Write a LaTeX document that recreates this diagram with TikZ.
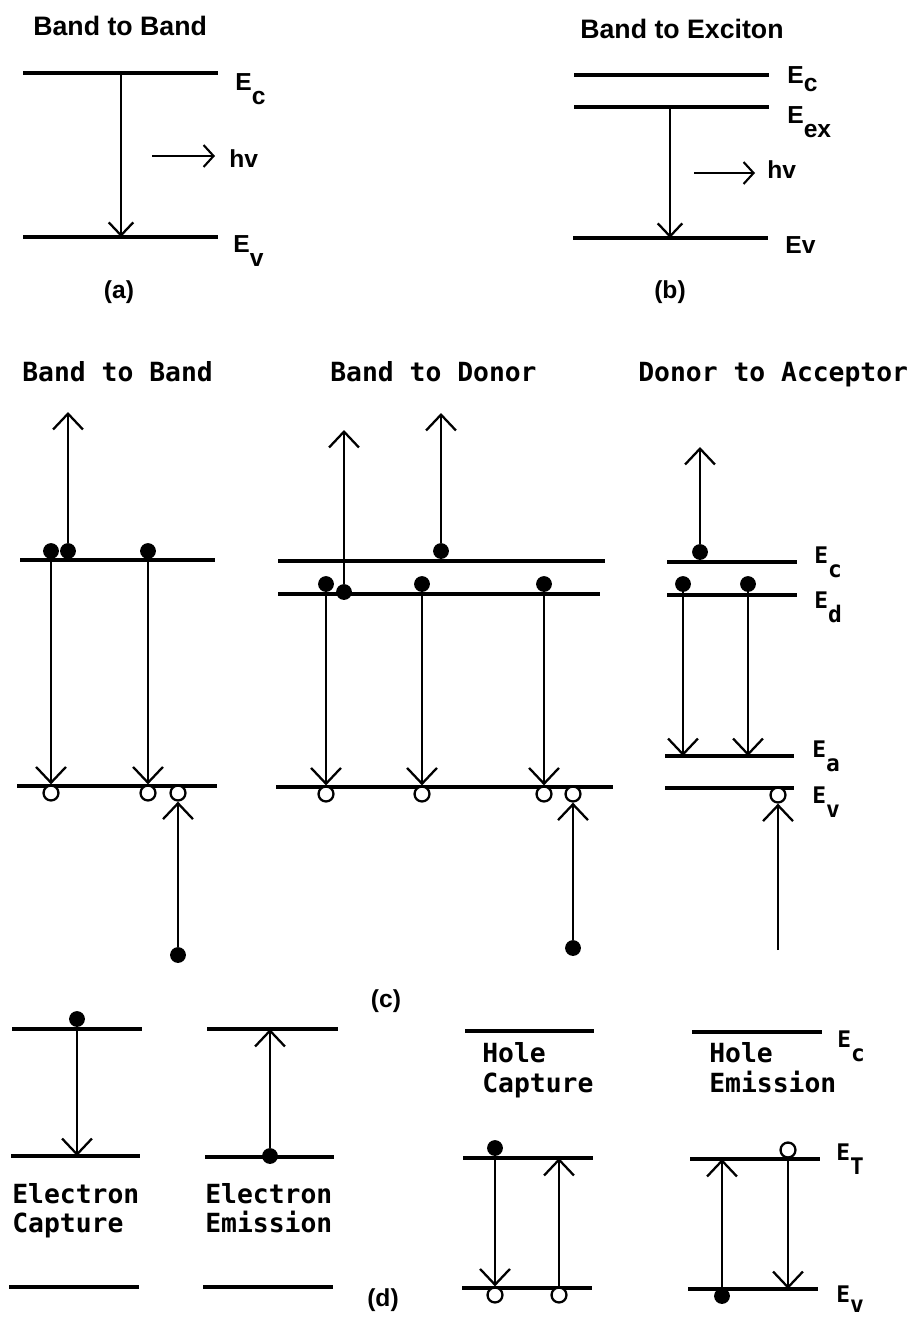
\documentclass[tikz,border=0pt]{standalone}
\usepackage{fontspec}
\newfontfamily\bandfont{Liberation Sans}
\newfontfamily\codefont{DejaVu Sans Mono}
\usetikzlibrary{arrows.meta}
\newcommand{\lev}[3][8.5pt]{#2\raisebox{-#1}{#3}}

\begin{document}
\begin{tikzpicture}[x=0.02cm, y=-0.02cm,
    level/.style={line width=2pt},
    trans/.style={line width=1.3pt, -{Straight Barb[length=9pt, width=17pt]}},
    transab/.style={line width=1.3pt, -{Straight Barb[length=7.4pt, width=14pt]}},
    photon/.style={line width=1.2pt, -{Straight Barb[length=5.7pt, width=12.5pt]}},
    electron/.style={circle, fill, inner sep=0pt, minimum size=9pt},
    hole/.style={circle, draw, fill=white, line width=1.3pt, inner sep=0pt, minimum size=8.5pt},
    head/.style={font=\bandfont\bfseries\fontsize{15.2}{18}\selectfont, inner sep=0pt, anchor=base west},
    lab/.style={font=\bandfont\bfseries\fontsize{14}{16}\selectfont, inner sep=0pt, anchor=base west},
    mhead/.style={font=\codefont\bfseries\fontsize{15}{18}\selectfont, inner sep=0pt, anchor=base west},
    mlab/.style={font=\codefont\bfseries\fontsize{13}{15}\selectfont, inner sep=0pt, anchor=base west}]

    \useasboundingbox (0,0) rectangle (914,1319);

    % (a) band to band
    \node[head] (ta) at (33,35) {Band to Band};
    \draw[level] (23,73) -- (218,73);
    \draw[level] (23,237) -- (218,237);
    \coordinate (aC) at (121,73);
    \coordinate (aV) at (121,237);
    \draw[transab] (aC) -- (aV);
    \coordinate (pa1) at (152,156);
    \coordinate (pa2) at (215,156);
    \draw[photon] (pa1) -- (pa2);
    \node[lab] (hva) at (229,167) {hv};
    \node[lab] (Eca) at (235,90) {\lev{E}{c}};
    \node[lab] (Eva) at (233,252) {\lev{E}{v}};
    \node[lab, anchor=center] (la) at (119,292) {(a)};

    % (b) band to exciton
    \node[head] (tb) at (580,38) {Band to Exciton};
    \draw[level] (574,75) -- (769,75);
    \draw[level] (574,107) -- (769,107);
    \draw[level] (573,238) -- (768,238);
    \coordinate (bX) at (670,107);
    \coordinate (bV) at (670,238);
    \draw[transab] (bX) -- (bV);
    \coordinate (pb1) at (694,173);
    \coordinate (pb2) at (755,173);
    \draw[photon] (pb1) -- (pb2);
    \node[lab] (hvb) at (767,178) {hv};
    \node[lab] (Ecb) at (787,83) {\lev[5pt]{E}{c}};
    \node[lab] (Eexb) at (787,123) {\lev{E}{ex}};
    \node[lab] (Evb) at (785,253) {Ev};
    \node[lab, anchor=center] (lb) at (670,292) {(b)};

    % (c) band to band
    \node[mhead] (tc1) at (22,381) {Band to Band};
    \draw[level] (20,560) -- (215,560);
    \draw[level] (17,786) -- (217,786);
    \node[electron] (e11) at (51,551) {};
    \node[electron] (e12) at (68,551) {};
    \node[electron] (e13) at (148,551) {};
    \node[electron] (e14) at (178,955) {};
    \node[hole] (h11) at (51,793) {};
    \node[hole] (h12) at (148,793) {};
    \node[hole] (h13) at (178,793) {};
    \coordinate (u11) at (68,412);
    \draw[trans] (e12) -- (u11);
    \draw[trans] (e11) -- (h11);
    \draw[trans] (e13) -- (h12);
    \draw[trans] (e14) -- (h13);

    % (c) band to donor
    \node[mhead] (tc2) at (330,381) {Band to Donor};
    \draw[level] (278,561) -- (605,561);
    \draw[level] (278,594) -- (600,594);
    \draw[level] (276,787) -- (613,787);
    \node[electron] (e21) at (326,584) {};
    \node[electron] (e22) at (344,592) {};
    \node[electron] (e23) at (422,584) {};
    \node[electron] (e24) at (544,584) {};
    \node[electron] (e25) at (441,551) {};
    \node[electron] (e26) at (573,948) {};
    \node[hole] (h21) at (326,794) {};
    \node[hole] (h22) at (422,794) {};
    \node[hole] (h23) at (544,794) {};
    \node[hole] (h24) at (573,794) {};
    \coordinate (u21) at (344,430);
    \coordinate (u22) at (441,413);
    \draw[trans] (e22) -- (u21);
    \draw[trans] (e25) -- (u22);
    \draw[trans] (e21) -- (h21);
    \draw[trans] (e23) -- (h22);
    \draw[trans] (e24) -- (h23);
    \draw[trans] (e26) -- (h24);

    % (c) donor to acceptor
    \node[mhead] (tc3) at (638,381) {Donor to Acceptor};
    \draw[level] (667,562) -- (797,562);
    \draw[level] (667,595) -- (797,595);
    \draw[level] (665,756) -- (794,756);
    \draw[level] (665,788) -- (794,788);
    \node[electron] (e31) at (700,552) {};
    \node[electron] (e32) at (683,584) {};
    \node[electron] (e33) at (748,584) {};
    \node[hole] (h31) at (778,795) {};
    \coordinate (u31) at (700,447);
    \coordinate (a31) at (683,756);
    \coordinate (a32) at (748,756);
    \coordinate (b31) at (778,950);
    \draw[trans] (e31) -- (u31);
    \draw[trans] (e32) -- (a31);
    \draw[trans] (e33) -- (a32);
    \draw[trans] (b31) -- (h31);
    \node[mlab] (Ecc) at (814,563) {\lev{E}{c}};
    \node[mlab] (Edc) at (814,608) {\lev{E}{d}};
    \node[mlab] (Eac) at (812,757) {\lev{E}{a}};
    \node[mlab] (Evc) at (812,803) {\lev{E}{v}};
    \node[lab, anchor=center] (lc) at (386,1001) {(c)};

    % (d) electron capture and emission
    \draw[level] (12,1029) -- (142,1029);
    \draw[level] (11,1156) -- (140,1156);
    \draw[level] (9,1287) -- (139,1287);
    \node[electron] (e41) at (77,1019) {};
    \coordinate (d41) at (77,1156);
    \draw[trans] (e41) -- (d41);
    \node[mhead] (t41) at (12,1203) {Electron};
    \node[mhead] (t42) at (12,1232) {Capture};

    \draw[level] (207,1029) -- (338,1029);
    \draw[level] (205,1157) -- (334,1157);
    \draw[level] (203,1287) -- (333,1287);
    \node[electron] (e51) at (270,1156) {};
    \coordinate (d51) at (270,1029);
    \draw[trans] (e51) -- (d51);
    \node[mhead] (t51) at (205,1203) {Electron};
    \node[mhead] (t52) at (205,1232) {Emission};
    \node[lab, anchor=center] (ld) at (383,1300) {(d)};

    % (d) hole capture and emission
    \draw[level] (465,1031) -- (594,1031);
    \draw[level] (463,1158) -- (593,1158);
    \draw[level] (462,1288) -- (592,1288);
    \node[mhead] (t61) at (482,1062) {Hole};
    \node[mhead] (t62) at (482,1092) {Capture};
    \node[electron] (e61) at (495,1148) {};
    \node[hole] (h61) at (495,1295) {};
    \node[hole] (h62) at (559,1295) {};
    \coordinate (d61) at (559,1158);
    \draw[trans] (e61) -- (h61);
    \draw[trans] (h62) -- (d61);

    \draw[level] (692,1032) -- (822,1032);
    \draw[level] (690,1159) -- (820,1159);
    \draw[level] (688,1289) -- (818,1289);
    \node[mhead] (t71) at (709,1062) {Hole};
    \node[mhead] (t72) at (709,1092) {Emission};
    \node[hole] (h71) at (788,1150) {};
    \node[electron] (e71) at (722,1296) {};
    \coordinate (d71) at (788,1289);
    \coordinate (d72) at (722,1159);
    \draw[trans] (h71) -- (d71);
    \draw[trans] (e71) -- (d72);
    \node[mlab] (Ecd) at (837,1047) {\lev{E}{c}};
    \node[mlab] (ETd) at (836,1160) {\lev{E}{T}};
    \node[mlab] (Evd) at (836,1302) {\lev[6pt]{E}{v}};
\end{tikzpicture}
\end{document}
